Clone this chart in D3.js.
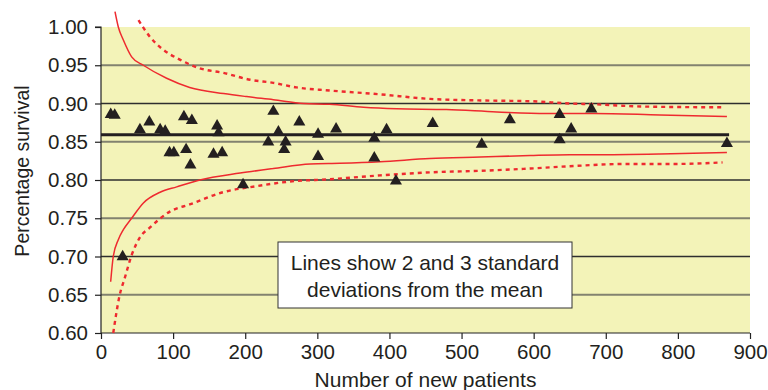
<!DOCTYPE html>
<html>
<head>
<meta charset="utf-8">
<script src="https://cdn.jsdelivr.net/npm/d3@7"></script>
<style>
  html, body { margin: 0; padding: 0; background: #fff; }
  svg { display: block; font-family: "Liberation Sans", Arial, Helvetica, sans-serif; }
</style>
</head>
<body>
<svg id="chart" width="768" height="390"></svg>
<script>
// Observed survival per unit against number of new patients
const patients = [13.5, 19, 30, 54, 67, 82, 89, 95, 101, 115, 118, 124, 126, 156, 161, 163, 168, 197, 232, 239, 246, 254, 256, 275, 301, 301, 326, 379, 379, 396, 409, 460, 528, 567, 636, 636, 652, 680, 868];
const survival = [0.888, 0.887, 0.702, 0.868, 0.878, 0.868, 0.866, 0.838, 0.838, 0.885, 0.842, 0.822, 0.880, 0.836, 0.873, 0.864, 0.838, 0.796, 0.852, 0.892, 0.865, 0.842, 0.852, 0.878, 0.862, 0.833, 0.869, 0.857, 0.831, 0.868, 0.801, 0.876, 0.849, 0.881, 0.888, 0.855, 0.869, 0.895, 0.850];

// Overall mean survival and the range of patients it spans
const meanSurvival = 0.859;
const meanRange = [0, 871];

// Funnel limits: 2 SD (solid) and 3 SD (dashed)
const upper2N = [19.4, 24, 31, 42.5, 58.7, 91, 123, 170, 202, 239, 281, 317, 364, 410, 479, 549, 618, 683, 775, 868];
const upper2V = [1.020, 1.000, 0.983, 0.961, 0.950, 0.933, 0.921, 0.913, 0.909, 0.905, 0.900, 0.899, 0.895, 0.893, 0.892, 0.889, 0.887, 0.887, 0.885, 0.883];
const lower2N = [13.4, 17, 24, 31, 42.5, 58.8, 82, 105, 137, 193, 239, 290, 331, 387, 456, 526, 595, 650, 683, 775, 868];
const lower2V = [0.667, 0.700, 0.722, 0.735, 0.750, 0.770, 0.784, 0.791, 0.800, 0.809, 0.815, 0.821, 0.822, 0.824, 0.828, 0.830, 0.832, 0.833, 0.833, 0.834, 0.836];
const upper3N = [52, 68, 84, 110, 137, 170, 207, 239, 271, 317, 387, 456, 526, 595, 650, 683, 752, 863];
const upper3V = [1.009, 0.987, 0.972, 0.957, 0.946, 0.940, 0.931, 0.927, 0.921, 0.917, 0.912, 0.906, 0.904, 0.903, 0.900, 0.899, 0.896, 0.895];
const lower3N = [17, 26, 33, 42.6, 54, 68, 96, 123, 169, 216, 262, 317, 387, 456, 526, 595, 650, 729, 798, 862];
const lower3V = [0.600, 0.650, 0.672, 0.702, 0.725, 0.738, 0.759, 0.768, 0.784, 0.792, 0.798, 0.801, 0.806, 0.810, 0.812, 0.815, 0.818, 0.821, 0.821, 0.823];

const xTicks = [0, 100, 200, 300, 400, 500, 600, 700, 800, 900];
const yTicks = [0.60, 0.65, 0.70, 0.75, 0.80, 0.85, 0.90, 0.95, 1.00];

const noteLines = ["Lines show 2 and 3 standard", "deviations from the mean"];

// Layout
const plot = { left: 101, right: 750, top: 27, bottom: 333 };
const svg = d3.select("#chart");

const x = d3.scaleLinear().domain([0, 900]).range([plot.left, plot.right]);
const y = d3.scaleLinear().domain([0.60, 1.00]).range([plot.bottom, plot.top]);

// Plot background
svg.append("rect")
  .attr("x", plot.left).attr("y", plot.top)
  .attr("width", plot.right - plot.left).attr("height", plot.bottom - plot.top)
  .attr("fill", "#f3f3b8");

// Horizontal grid lines
svg.append("g").selectAll("line")
  .data(yTicks.filter(v => v > 0.6 && v < 1.0))
  .join("line")
  .attr("x1", plot.left).attr("x2", plot.right)
  .attr("y1", d => y(d)).attr("y2", d => y(d))
  .attr("stroke", (d, i) => i % 2 === 0 ? "#82826f" : "#2e2e2e")
  .attr("stroke-width", (d, i) => i % 2 === 0 ? 1.8 : 1.4);

// Axes
const yAxis = d3.axisLeft(y).tickValues(yTicks).tickFormat(d3.format(".2f")).tickSize(6).tickPadding(7);
const xAxis = d3.axisBottom(x).tickValues(xTicks).tickFormat(d3.format("d")).tickSize(6).tickPadding(5);

const gy = svg.append("g").attr("transform", `translate(${plot.left},0)`).call(yAxis);
const gx = svg.append("g").attr("transform", `translate(0,${plot.bottom})`).call(xAxis);
[gx, gy].forEach(g => {
  g.select(".domain").attr("stroke", "#222").attr("stroke-width", 1.2);
  g.selectAll(".tick line").attr("stroke", "#222").attr("stroke-width", 1.2);
  g.selectAll(".tick text").attr("fill", "#231f20").attr("font-size", 20.5)
    .attr("font-family", "'Liberation Sans', Arial, sans-serif");
});
gy.select(".domain").attr("d", `M-6,${plot.top}H0V${plot.bottom}`);
gx.select(".domain").attr("d", `M${plot.left},0H${plot.right}`);

// Axis titles
svg.append("text")
  .attr("x", (plot.left + plot.right) / 2).attr("y", 387)
  .attr("text-anchor", "middle").attr("font-size", 21).attr("fill", "#231f20")
  .text("Number of new patients");
svg.append("text")
  .attr("transform", "translate(29,171) rotate(-90)")
  .attr("text-anchor", "middle").attr("font-size", 19.5).attr("fill", "#231f20")
  .text("Percentage survival");

// Control limit lines
const limitLine = d3.line().x(d => x(d[0])).y(d => y(d[1])).curve(d3.curveMonotoneX);
const limits = [
  { n: upper2N, v: upper2V, dash: null, w: 1.5 },
  { n: lower2N, v: lower2V, dash: null, w: 1.5 },
  { n: upper3N, v: upper3V, dash: "4,4", w: 2.4 },
  { n: lower3N, v: lower3V, dash: "4,4", w: 2.4 }
];
svg.append("g").selectAll("path")
  .data(limits)
  .join("path")
  .attr("d", d => limitLine(d.n.map((n, i) => [n, d.v[i]])))
  .attr("fill", "none")
  .attr("stroke", "#ee2a2f")
  .attr("stroke-width", d => d.w)
  .attr("stroke-dasharray", d => d.dash);

// Mean line
svg.append("line")
  .attr("x1", x(meanRange[0])).attr("x2", x(meanRange[1]))
  .attr("y1", y(meanSurvival)).attr("y2", y(meanSurvival))
  .attr("stroke", "#231f20").attr("stroke-width", 3);

// Triangle markers centred on their bounding box
const triangle = {
  draw(context, size) {
    const w = Math.sqrt(size) * 1.15, h = Math.sqrt(size);
    context.moveTo(0, -h / 2);
    context.lineTo(w / 2, h / 2);
    context.lineTo(-w / 2, h / 2);
    context.closePath();
  }
};
svg.append("g").selectAll("path")
  .data(patients.map((n, i) => [n, survival[i]]))
  .join("path")
  .attr("transform", d => `translate(${x(d[0])},${y(d[1])})`)
  .attr("d", d3.symbol().type(triangle).size(110))
  .attr("fill", "#231f20");

// Note box
const box = { x: 278, y: 242, w: 294, h: 66 };
svg.append("rect")
  .attr("x", box.x).attr("y", box.y).attr("width", box.w).attr("height", box.h)
  .attr("fill", "#fff").attr("stroke", "#333").attr("stroke-width", 1);
svg.append("g").selectAll("text")
  .data(noteLines)
  .join("text")
  .attr("x", box.x + box.w / 2)
  .attr("y", (d, i) => 269.5 + i * 27)
  .attr("text-anchor", "middle").attr("font-size", 21).attr("fill", "#231f20")
  .text(d => d);
</script>
</body>
</html>
